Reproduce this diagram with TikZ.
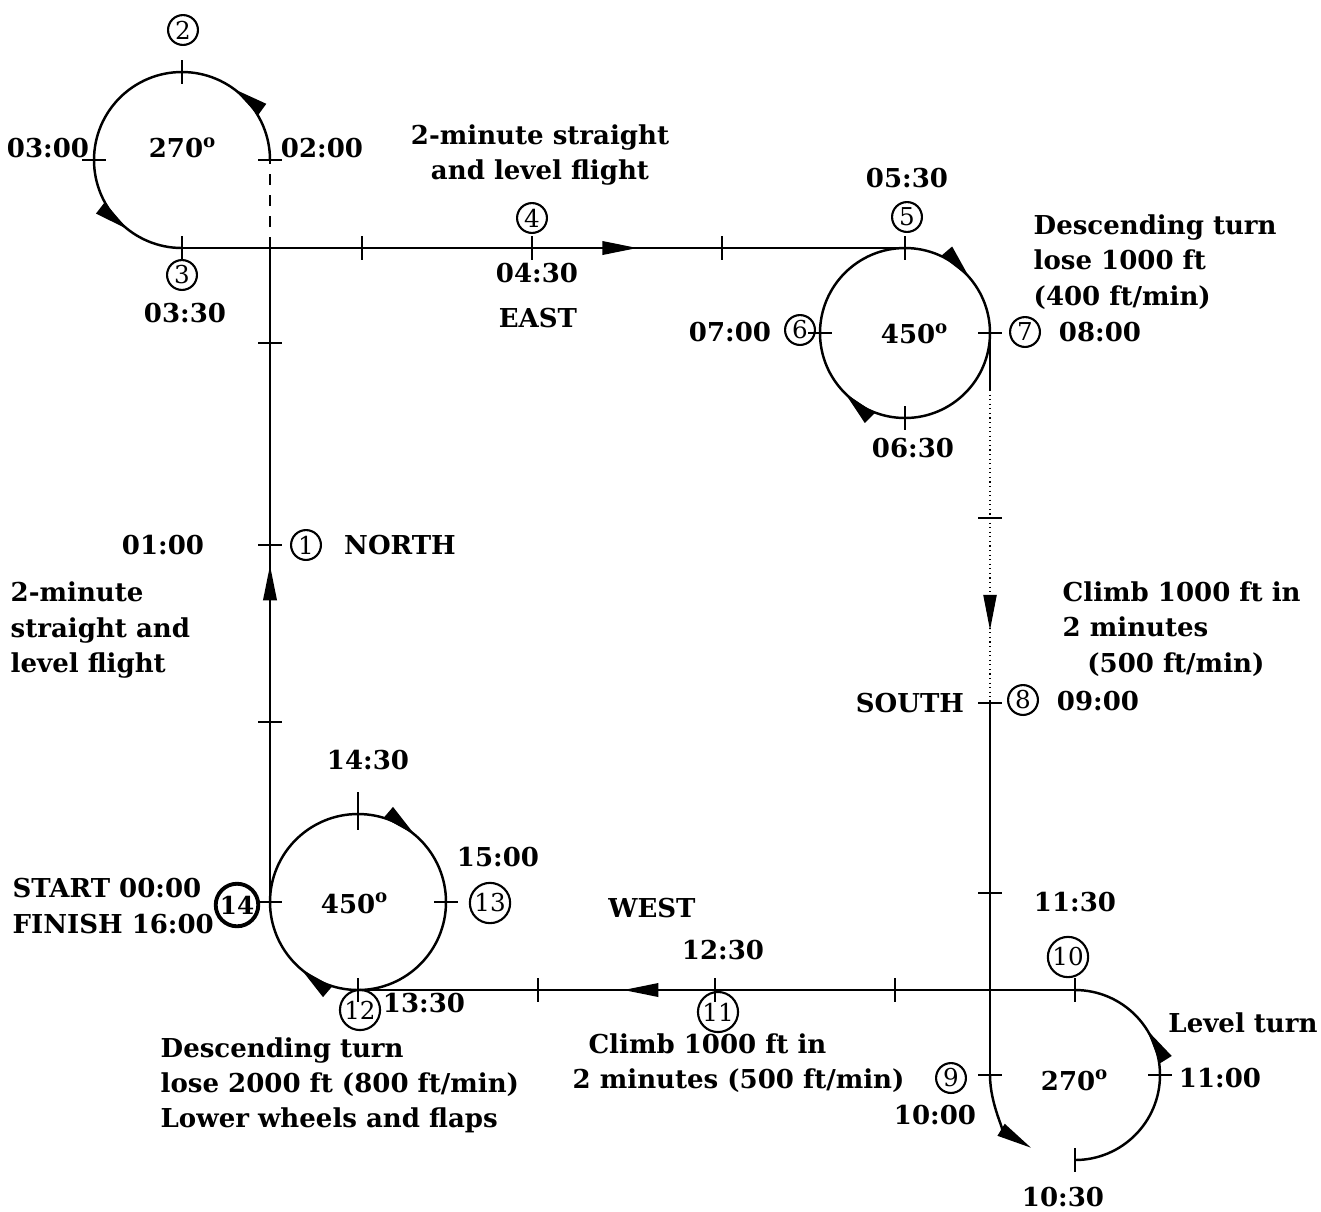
\documentclass[tikz,border=0pt]{standalone}
\usepackage{fontspec}
\setmainfont{DejaVu Serif}
\usetikzlibrary{arrows.meta,positioning,decorations.markings}

\begin{document}
\begin{tikzpicture}[x=0.01cm, y=-0.01cm,
    leg/.style={line width=0.7pt},
    faint/.style={line width=0.3pt, densely dotted},
    hair/.style={line width=0.7pt},
    num/.style={circle, draw, line width=0.6pt, inner sep=0.4pt, minimum size=8.5pt, font=\fontsize{7}{7}\selectfont},
    lbl/.style={font=\fontsize{7.4}{10}\selectfont\bfseries, inner sep=0pt},
    note/.style={lbl, align=left, anchor=west},
    dir at/.style={postaction={decorate, decoration={markings,
        mark=at position #1 with {\arrow{Triangle[length=10pt,width=3.8pt]}}}}}
]
    \useasboundingbox (0,0) rectangle (1321,1211);

    % turn points
    \coordinate (p14) at (270,902);
    \coordinate (pcross) at (270,248);
    \coordinate (p02) at (270,160);
    \coordinate (p3) at (182,248);
    \coordinate (p5) at (905,248);
    \coordinate (p7) at (990,333);
    \coordinate (s1) at (990,390);
    \coordinate (s2) at (990,700);
    \coordinate (p9) at (990,1075);
    \coordinate (p1030) at (1075,1160);
    \coordinate (p10) at (1075,990);
    \coordinate (p12) at (358,990);

    % north leg
    \draw[leg, dir at=0.515] (p14) -- (pcross);
    \draw[leg, dashed] (pcross) -- (p02);
    % 270 deg left turn
    \draw[leg, dir at=0.2, dir at=0.86] (p02) arc[start angle=360, end angle=90, radius=88];
    % east leg
    \draw[leg, dir at=0.63] (p3) -- (p5);
    % 450 deg descending turn
    \draw[leg, dir at=0.11, dir at=0.5] (p5) arc[start angle=270, end angle=720, radius=85];
    % south leg
    \draw[leg] (p7) -- (s1);
    \draw[faint, dir at=0.774] (s1) -- (s2);
    \draw[leg] (s2) -- (p9);
    % 270 deg level turn
    \draw[leg, -{Triangle[length=10pt,width=3.8pt]}] (p9) arc[start angle=180, end angle=121, radius=85];
    \draw[leg, dir at=0.678] (p1030) arc[start angle=90, end angle=-90, radius=85];
    % west leg
    \draw[leg, dir at=0.63] (p10) -- (p12);
    % 450 deg final turn
    \draw[leg, dir at=0.09, dir at=0.49] (p12) arc[start angle=90, end angle=540, radius=88];

    % ticks
    \foreach \x/\y in {270/160, 94/160, 990/333, 820/333, 990/1075, 1160/1075, 270/902, 446/902,
                       270/343, 270/545, 270/722, 990/518, 990/703, 990/893}
        \draw[hair] (\x-12,\y) -- (\x+12,\y);
    \foreach \x/\y in {182/72, 182/248, 905/248, 905/418, 1075/1160, 1075/990, 358/990,
                       362/248, 532/248, 722/248, 895/990, 715/990, 538/990}
        \draw[hair] (\x,\y-12) -- (\x,\y+12);
    \draw[hair] (358,792) -- (358,830);

    % check points
    \node[num] (n1) at (306,545) {1};
    \node[num] (n2) at (183,30) {2};
    \node[num] (n3) at (182,275) {3};
    \node[num] (n4) at (532,218) {4};
    \node[num] (n5) at (907,217) {5};
    \node[num] (n6) at (800,330) {6};
    \node[num] (n7) at (1025,332) {7};
    \node[num] (n8) at (1023,700) {8};
    \node[num] (n9) at (951,1078) {9};
    \node[num] (n10) at (1068,957) {10};
    \node[num] (n11) at (718,1012) {11};
    \node[num] (n12) at (360,1010) {12};
    \node[num] (n13) at (490,903) {13};
    \node[num, line width=1.1pt, font=\fontsize{7}{7}\selectfont\bfseries] (n14) at (237,905) {14};

    % times
    \node[lbl] (t0100) at (163,545) {01:00};
    \node[lbl] (t0200) at (322,148) {02:00};
    \node[lbl] (t0300) at (48,148) {03:00};
    \node[lbl] (t0330) at (185,313) {03:30};
    \node[lbl] (t0430) at (537,273) {04:30};
    \node[lbl] (t0530) at (907,178) {05:30};
    \node[lbl] (t0630) at (913,448) {06:30};
    \node[lbl] (t0700) at (730,332) {07:00};
    \node[lbl] (t0800) at (1100,332) {08:00};
    \node[lbl] (t0900) at (1098,701) {09:00};
    \node[lbl] (t1000) at (935,1115) {10:00};
    \node[lbl] (t1030) at (1063,1197) {10:30};
    \node[lbl] (t1100) at (1220,1078) {11:00};
    \node[lbl] (t1130) at (1075,902) {11:30};
    \node[lbl] (t1230) at (723,950) {12:30};
    \node[lbl] (t1330) at (424,1003) {13:30};
    \node[lbl] (t1430) at (368,760) {14:30};
    \node[lbl] (t1500) at (498,857) {15:00};

    % headings and turn angles
    \node[lbl] (north) at (400,545) {NORTH};
    \node[lbl] (east) at (538,318) {EAST};
    \node[lbl] (south) at (910,703) {SOUTH};
    \node[lbl] (west) at (652,908) {WEST};
    \node[lbl] (a1) at (183,148) {270\textsuperscript{o}};
    \node[lbl] (a2) at (915,334) {450\textsuperscript{o}};
    \node[lbl] (a3) at (1075,1080) {270\textsuperscript{o}};
    \node[lbl] (a4) at (355,903) {450\textsuperscript{o}};

    % notes
    \node[lbl, align=center] (eastnote) at (540,155) {2-minute straight\\and level flight};
    \node[note] (northnote) at (10,630) {2-minute\\straight and\\level flight};
    \node[note] (turn1note) at (1033,262) {Descending turn\\lose 1000 ft\\(400 ft/min)};
    \node[note] (southnote) at (1062,629) {Climb 1000 ft in\\2 minutes\\\hspace{7pt}(500 ft/min)};
    \node[note] (start) at (12,906) {START 00:00\\FINISH 16:00};
    \node[lbl] (levelnote) at (1243,1023) {Level turn};
    \node[note] (westnote) at (572,1063) {\hspace{4.5pt}Climb 1000 ft in\\2 minutes (500 ft/min)};
    \node[note] (finalnote) at (160,1085) {Descending turn\\lose 2000 ft (800 ft/min)\\Lower wheels and flaps};
\end{tikzpicture}
\end{document}
